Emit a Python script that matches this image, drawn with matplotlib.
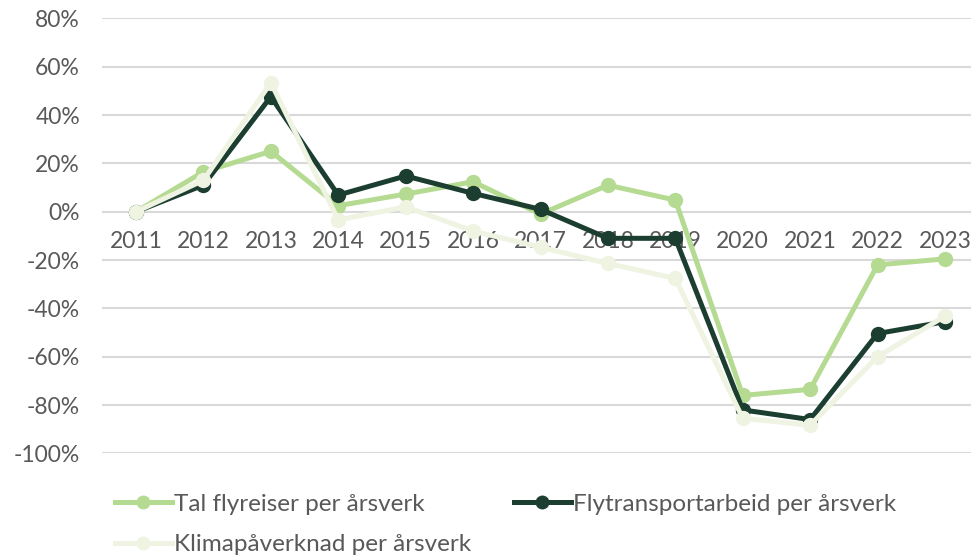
import matplotlib.pyplot as plt

plt.rcParams['font.family'] = ['Lato', 'DejaVu Sans']

# Data
years = ['2011', '2012', '2013', '2014', '2015', '2016', '2017',
         '2018', '2019', '2020', '2021', '2022', '2023']
tal_flyreiser = [0, 16.5, 25, 2.5, 7.3, 12.4, -1, 11, 4.8, -76, -73.5, -22, -19.5]
flytransport = [0, 11, 47.6, 6.9, 14.8, 7.6, 1, -11, -11, -82, -86, -50.4, -45.5]
klima = [0, 13, 53.4, -3.4, 2, -8, -14.7, -21.4, -27.6, -85.5, -88.3, -60, -43.2]

series = [
    ('Tal flyreiser per årsverk', tal_flyreiser, '#b5da91'),
    ('Flytransportarbeid per årsverk', flytransport, '#1c3e31'),
    ('Klimapåverknad per årsverk', klima, '#eef3e2'),
]

text_col = '#595959'

fig = plt.figure(figsize=(9.71, 5.57), dpi=100)
# axes reaches past the right edge, as in the original (clipped)
ax = fig.add_axes([102.3 / 971, 1 - 453.4 / 557, (978.7 - 102.3) / 971, (453.4 - 18.4) / 557])

x = list(range(len(years)))
lines = []
for i, (name, vals, col) in enumerate(series):
    ln, = ax.plot(x, vals, color=col, lw=3.6, marker='o', ms=10, label=name,
                  zorder=3 + i, solid_joinstyle='round')
    lines.append(ln)

ax.set_xlim(-0.5, len(years) - 0.5)
ax.set_ylim(-100, 80)
ax.set_yticks(range(-100, 81, 20))
ax.set_yticklabels([f'{v}%' for v in range(-100, 81, 20)])
ax.grid(axis='y', color='#d9d9d9', lw=1.5, zorder=0)
ax.set_axisbelow(True)

for s in ax.spines.values():
    s.set_visible(False)
ax.spines['bottom'].set_position(('data', 0))
ax.set_xticks(x)
ax.set_xticklabels(years)
ax.tick_params(axis='x', length=0, pad=14, labelsize=16.5, labelcolor=text_col)
ax.tick_params(axis='y', length=0, pad=16, labelsize=16.5, labelcolor=text_col)

# row-major order: Tal, Fly on first row, Klima on second
order = [lines[0], lines[2], lines[1]]
fig.legend(handles=order, labels=[l.get_label() for l in order],
           loc='upper left', bbox_to_anchor=(0.108, 0.131), ncol=2, frameon=False,
           fontsize=17.5, labelcolor=text_col, handlelength=2.35, handletextpad=0.1,
           columnspacing=1.75, borderaxespad=0, labelspacing=0.8, markerscale=0.9)

fig.savefig('out.png', dpi=100)
